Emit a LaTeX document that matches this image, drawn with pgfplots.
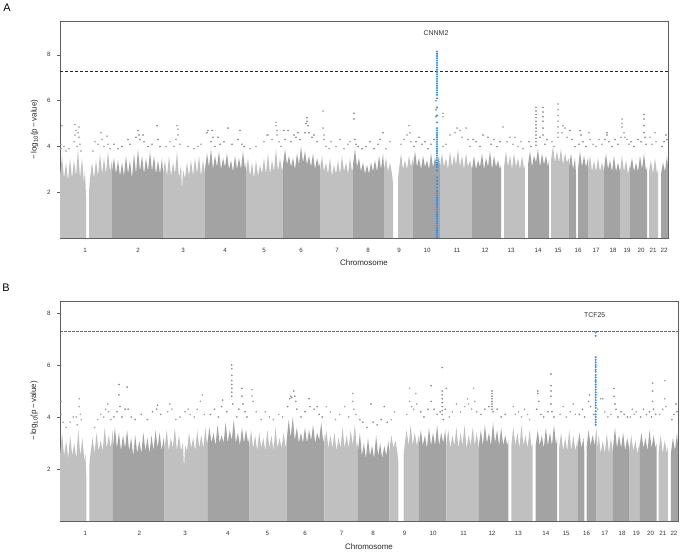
\documentclass[border=0pt]{standalone}
\usepackage{fontspec}
\setmainfont{Liberation Sans}
\usepackage{pgfplots}
\pgfplotsset{compat=1.18}
\definecolor{lg}{RGB}{192,192,192}
\definecolor{dg}{RGB}{163,163,163}
\definecolor{lgp}{RGB}{165,165,165}
\definecolor{dgp}{RGB}{138,138,138}
\definecolor{snpblue}{RGB}{30,144,255}
\definecolor{frame}{RGB}{95,95,95}
\pgfplotsset{
 manh/.style={scale only axis, xmin=60, xmax=668, ymin=0,
  axis line style={draw=frame, line width=0.8pt},
  xtick={85,138,183,225,264,301,337,368,399,427,457,485,511,538,558,578,596,613,627,641,653,664},
  xticklabels={1,2,3,4,5,6,7,8,9,10,11,12,13,14,15,16,17,18,19,20,21,22},
  ytick={2,4,6,8},
  /pgf/number format/assume math mode=true,
  tick align=outside, tick pos=left,
  x tick style={draw=none}, y tick style={draw=frame, line width=0.5pt},
  major tick length=3bp,
  tick label style={font=\fontsize{6.2}{7}\selectfont, text=black!80},
  xticklabel style={yshift=-4bp},
  yticklabel style={xshift=-3bp},
  label style={font=\fontsize{8}{9}\selectfont, text=black!85},
  ylabel={−\,log\textsubscript{10}(p\,−\,value)},
  xlabel={Chromosome},
 },
 lf/.style={fill=lg, draw=none},
 df/.style={fill=dg, draw=none},
 lp/.style={color=lgp, only marks, mark=*, mark size=0.6pt, mark options={draw=none, fill=lgp}},
 dp/.style={color=dgp, only marks, mark=*, mark size=0.6pt, mark options={draw=none, fill=dgp}},
 bp/.style={color=snpblue, only marks, mark=*, mark size=0.8pt, mark options={draw=none, fill=snpblue}},
}
\begin{document}
\begin{tikzpicture}
\useasboundingbox (0,0) rectangle (680bp,553bp);
\node[font=\fontsize{11}{12}\selectfont] at (7bp,545bp) {A};
\node[font=\fontsize{11}{12}\selectfont] at (6bp,265bp) {B};
% ---------------- Panel A ----------------
\begin{axis}[manh, at={(60bp,315bp)}, anchor=south west, width=608bp, height=217bp, ymax=9.48,
  xlabel style={at={(axis description cs:0.5,-0.115)}, anchor=center},
  ylabel style={at={(axis description cs:-0.042,0.5)}, anchor=center}]
\addplot[lf] coordinates {(60,0)(60,2.7)(62,3.6)(64,2.6)(66,3.3)(68,2.5)(70,3.5)(72,2.6)(74,3.4)(76,2.7)(78,3.9)(80,2.6)(82,3.5)(84,2.4)(85,3.0)(86,1.8)(86,0)};
\addplot[lf] coordinates {(89,0)(89,2.0)(90,2.6)(92,3.3)(94,2.6)(96,3.4)(98,2.7)(100,3.7)(102,2.8)(104,3.5)(106,2.8)(108,3.8)(110,2.9)(112,3.4)(112,0)};
\addplot[df] coordinates {(112,0)(112,2.9)(114,3.5)(116,2.8)(118,3.4)(120,2.7)(122,3.3)(124,2.7)(126,3.6)(128,2.8)(130,3.4)(132,2.6)(134,3.7)(136,2.8)(138,3.9)(140,2.9)(142,3.6)(144,2.8)(146,3.5)(148,2.9)(150,3.8)(152,2.9)(154,3.6)(156,2.8)(158,3.4)(160,2.8)(162,3.5)(163,2.9)(163,0)};
\addplot[lf] coordinates {(163,0)(163,2.8)(165,3.4)(167,2.7)(169,3.6)(171,2.7)(173,3.3)(175,2.8)(177,3.8)(179,2.6)(181,3.2)(182,2.0)(183,3.0)(185,2.6)(187,3.3)(189,2.7)(191,3.4)(193,2.7)(195,3.5)(197,2.8)(199,3.6)(201,2.7)(203,3.4)(205,2.8)(205,0)};
\addplot[df] coordinates {(205,0)(205,3.0)(207,3.7)(209,3.1)(211,3.9)(213,3.0)(215,3.6)(217,3.1)(219,3.8)(221,3.0)(223,3.5)(225,3.1)(227,3.7)(229,3.0)(231,3.4)(233,2.9)(235,3.6)(237,3.0)(239,3.5)(241,3.0)(243,3.8)(245,3.0)(246,3.3)(246,0)};
\addplot[lf] coordinates {(246,0)(246,2.8)(248,3.5)(250,2.7)(252,3.3)(254,2.6)(256,3.4)(258,2.7)(260,3.2)(262,2.8)(264,3.5)(266,2.8)(268,3.7)(270,2.8)(272,3.4)(274,2.9)(276,3.9)(278,2.9)(280,3.5)(282,2.9)(283,3.2)(283,0)};
\addplot[df] coordinates {(283,0)(283,3.2)(285,3.9)(287,3.2)(289,3.6)(291,3.1)(293,3.5)(295,3.0)(297,3.7)(299,3.2)(301,4.0)(303,3.3)(305,3.8)(307,3.2)(309,3.6)(311,3.1)(313,3.7)(315,3.0)(317,3.5)(319,3.1)(320,3.3)(320,0)};
\addplot[lf] coordinates {(320,0)(320,2.9)(322,3.6)(324,2.9)(326,3.3)(328,2.8)(330,3.5)(332,2.7)(334,3.2)(336,2.8)(338,3.4)(340,2.8)(342,3.6)(344,2.9)(346,3.3)(348,2.8)(350,3.5)(352,2.9)(353,3.1)(353,0)};
\addplot[df] coordinates {(353,0)(353,3.2)(355,3.9)(357,3.1)(359,3.5)(361,2.9)(363,3.3)(365,2.8)(367,3.2)(369,2.8)(371,3.3)(373,2.9)(375,3.4)(377,2.9)(379,3.6)(381,3.0)(383,3.7)(384,3.1)(384,0)};
\addplot[lf] coordinates {(384,0)(384,3.0)(386,3.5)(388,2.9)(390,3.3)(392,2.8)(393,2.4)(393,0)};
\addplot[lf] coordinates {(398,0)(398,2.6)(399,3.0)(401,3.7)(403,3.0)(405,3.4)(407,3.0)(409,3.6)(411,3.1)(413,3.5)(413,0)};
\addplot[df] coordinates {(413,0)(413,3.1)(415,3.8)(417,3.1)(419,3.5)(421,3.0)(423,3.6)(425,3.1)(427,3.4)(429,3.0)(431,3.7)(433,3.1)(435,3.5)(437,3.2)(439,3.6)(440,3.1)(440,0)};
\addplot[lf] coordinates {(440,0)(440,3.1)(442,3.7)(444,3.1)(446,3.5)(448,3.0)(450,3.8)(452,3.1)(454,3.6)(456,3.2)(458,3.9)(460,3.1)(462,3.6)(464,3.0)(466,3.7)(468,3.1)(470,3.4)(472,3.0)(472,0)};
\addplot[df] coordinates {(472,0)(472,3.0)(474,3.6)(476,3.0)(478,3.4)(480,3.1)(482,3.7)(484,3.0)(486,3.5)(488,3.1)(490,3.8)(492,3.0)(494,3.6)(496,3.1)(498,3.4)(500,3.0)(501,3.2)(501,0)};
\addplot[lf] coordinates {(504,0)(504,3.1)(506,3.8)(508,3.1)(510,3.6)(512,3.0)(514,3.7)(516,3.1)(518,3.5)(520,3.0)(522,3.6)(524,3.0)(525,3.2)(525,0)};
\addplot[df] coordinates {(528,0)(528,3.2)(530,3.8)(532,3.1)(534,3.6)(536,3.3)(538,3.9)(540,3.1)(542,3.7)(544,3.2)(546,3.6)(548,3.1)(549,3.4)(549,0)};
\addplot[lf] coordinates {(551,0)(551,3.4)(553,4.0)(555,3.3)(557,3.8)(559,3.3)(561,3.9)(563,3.2)(565,3.7)(567,3.3)(569,3.5)(569,0)};
\addplot[df] coordinates {(569,0)(569,3.1)(571,3.7)(573,3.0)(575,3.5)(576,2.8)(576,0)};
\addplot[df] coordinates {(578,0)(578,3.0)(580,3.8)(582,3.1)(584,3.6)(586,3.1)(588,3.5)(588,0)};
\addplot[lf] coordinates {(588,0)(588,3.0)(590,3.6)(592,2.9)(594,3.4)(596,2.9)(598,3.5)(600,2.9)(602,3.3)(604,2.9)(604,0)};
\addplot[df] coordinates {(604,0)(604,3.0)(606,3.7)(608,3.0)(610,3.4)(612,2.9)(614,3.6)(616,2.9)(618,3.3)(620,2.9)(620,0)};
\addplot[lf] coordinates {(620,0)(620,2.9)(622,3.6)(624,2.9)(626,3.4)(628,2.8)(630,3.2)(630,0)};
\addplot[df] coordinates {(630,0)(630,3.0)(632,3.5)(634,2.9)(636,3.3)(638,2.9)(640,3.6)(642,3.0)(644,3.7)(646,2.9)(647,3.1)(647,0)};
\addplot[lf] coordinates {(649,0)(649,2.9)(651,3.4)(653,2.8)(655,3.5)(657,2.8)(658,3.0)(658,0)};
\addplot[df] coordinates {(661,0)(661,2.8)(663,3.3)(665,2.9)(667,3.6)(668,3.1)(668,0)};
% light-chromosome SNPs above the bulk
\addplot[lp] coordinates {(61,3.9)(61,4.1)(62,4.9)(64,4.0)(66,3.8)(69,3.9)(74,4.2)(75,4.5)(75,4.95)(76,4.7)(77,4.0)(78,4.6)(79,4.85)(79,4.4)(80,4.1)(81,3.8)(93,3.8)(95,4.2)(98,4.1)(101,4.6)(102,4.3)(104,4.0)(107,4.45)(108,4.1)(110,3.9)
(166,4.0)(170,4.2)(174,4.0)(176,4.3)(177,4.9)(178,4.75)(178,4.5)(180,4.1)(188,4.0)(194,3.9)(198,4.0)(201,4.1)
(250,3.9)(256,4.0)(264,4.2)(267,4.5)(268,4.5)(272,4.3)(276,5.05)(276,4.9)(277,4.7)(277,4.5)(279,4.2)(281,4.0)
(323,5.55)(323,4.8)(324,4.5)(324,4.3)(326,4.0)(329,3.9)(331,4.2)(336,4.0)(340,4.3)(344,3.9)(348,4.1)(350,4.2)
(386,3.9)(390,4.2)(401,4.1)(404,4.3)(407,4.5)(409,4.9)(410,4.6)(411,4.2)
(443,5.45)(443,5.3)(443,4.0)(446,4.1)(450,4.5)(455,4.6)(457,4.8)(460,4.7)(462,4.4)(466,4.8)(468,4.3)(470,4.0)
(503,4.85)(507,4.2)(510,4.4)(513,4.1)(515,4.4)(518,4.0)(521,4.2)(523,3.9)
(552,4.2)(554,4.0)(558,5.85)(558,5.6)(558,5.35)(558,5.1)(558,4.85)(558,4.6)(558,4.4)(562,4.6)(563,4.9)(565,4.8)(567,4.4)
(589,4.6)(590,4.3)(593,4.1)(596,4.0)(599,4.3)(602,4.1)
(621,4.4)(622,5.2)(622,5.0)(622,4.85)(624,4.6)(625,4.4)(627,4.3)(629,4.1)
(650,4.4)(652,4.1)(655,4.6)(656,4.2)};
% dark-chromosome SNPs above the bulk
\addplot[dp] coordinates {(114,4.1)(118,3.9)(122,4.0)(128,4.3)(130,4.1)(136,4.4)(138,4.7)(139,4.5)(140,4.3)(143,4.5)(144,4.2)(148,4.0)(152,4.1)(157,4.9)(158,4.3)(160,4.0)
(207,4.6)(208,4.7)(211,4.2)(212,4.7)(213,4.4)(215,4.0)(218,4.4)(220,4.1)(224,4.2)(228,4.8)(232,4.1)(238,4.3)(240,4.7)(242,4.1)(244,4.0)
(284,4.7)(285,4.3)(288,4.7)(291,4.2)(294,4.5)(296,4.4)(298,4.6)(300,4.3)(305,4.6)(306,5.0)(307,5.25)(307,5.1)(308,4.9)(309,4.6)(312,4.4)(314,4.5)(317,4.2)
(354,5.45)(354,5.2)(355,4.3)(356,4.1)(358,4.0)(362,3.9)(366,4.0)(370,4.2)(374,3.9)(378,4.1)(380,4.3)(383,4.6)
(414,4.0)(416,4.2)(419,4.4)(422,4.1)(425,4.2)(428,3.9)(431,4.1)(434,4.3)(436,5.3)(436,5.6)(436,6.0)
(473,4.3)(476,4.2)(480,4.0)(483,4.5)(488,4.4)(491,4.1)(494,4.3)(497,4.0)(500,4.2)
(529,4.2)(531,4.0)(536,5.7)(536,5.55)(536,5.4)(536,5.25)(536,5.1)(536,4.95)(536,4.8)(536,4.65)(536,4.5)(536,4.35)(536,4.2)(536,4.05)(540,4.4)(543,5.7)(543,5.5)(543,5.3)(543,5.1)(543,4.8)(543,4.5)(545,4.1)(547,4.3)
(570,4.7)(572,4.3)(575,4.0)(579,4.1)(580,4.7)(581,4.5)(583,4.2)(586,4.0)
(605,4.3)(607,4.6)(607,4.5)(609,4.2)(612,4.0)(615,4.3)(618,4.1)
(631,4.2)(634,4.0)(638,4.3)(641,4.2)(644,5.4)(644,5.2)(644,4.9)(644,4.6)(645,4.4)(646,4.1)
(662,4.0)(664,4.2)(666,4.5)(667,4.3)};
% CNNM2 locus
\addplot[bp] coordinates {(437,0.05)(437,0.15)(437,0.25)(437,0.35)(437,0.45)(437,0.55)(437,0.65)(437,0.75)(437,0.85)(437,0.95)(437,1.05)(437,1.15)(437,1.25)(437,1.35)(437,1.45)(437,1.55)(437,1.65)(437,1.75)(437,1.85)(437,1.95)(437,2.05)(437,2.2)(437,2.35)(437,2.5)(437,2.65)(437,2.95)(437,3.1)(437,3.2)(437,3.3)(437,3.4)(437,3.5)(437,3.6)(437,3.7)(437,3.8)(437,3.9)(437,4.0)(437,4.1)(437,4.2)(437,4.3)(437,4.4)(437,4.5)(437,4.6)(437,4.7)(437,4.8)(437,5.05)(437,5.35)(437,5.7)(437,6.1)(437,6.25)(437,6.35)(437,6.45)(437,6.55)(437,6.65)(437,6.75)(437,6.85)(437,6.95)(437,7.05)(437,7.15)(437,7.25)(437,7.35)(437,7.45)(437,7.55)(437,7.65)(437,7.75)(437,7.85)(437,7.95)(437,8.05)(437,8.15)};
\addplot[black!85, line width=0.6pt, dash pattern=on 3bp off 2bp] coordinates {(60,7.3)(668,7.3)};
\node[font=\fontsize{7}{8}\selectfont, text=black!80] at (axis cs:436,8.95) {CNNM2};
\end{axis}
% ---------------- Panel B ----------------
\begin{axis}[manh, at={(60bp,32bp)}, anchor=south west, width=618bp, height=220bp, ymax=8.46,
  xlabel style={at={(axis description cs:0.5,-0.118)}, anchor=center},
  ylabel style={at={(axis description cs:-0.042,0.5)}, anchor=center}]
\addplot[lf] coordinates {(60,0)(60,2.5)(62,3.4)(64,2.5)(66,3.1)(68,2.4)(70,3.3)(72,2.5)(74,3.0)(76,2.4)(78,3.5)(80,2.5)(82,3.2)(84,2.3)(85,2.6)(86,1.6)(86,0)};
\addplot[lf] coordinates {(89,0)(89,2.2)(90,2.6)(92,3.2)(94,2.6)(96,3.4)(98,2.7)(100,3.1)(102,2.7)(104,3.6)(106,2.8)(108,3.3)(110,2.8)(112,3.5)(112,0)};
\addplot[df] coordinates {(112,0)(112,2.8)(114,3.6)(116,2.8)(118,3.4)(120,2.7)(122,3.3)(124,2.8)(126,3.5)(128,2.7)(130,3.2)(132,2.5)(134,3.3)(136,2.6)(138,3.1)(140,2.6)(142,3.4)(144,2.7)(146,3.2)(148,2.6)(150,3.3)(152,2.7)(154,3.5)(156,2.8)(158,3.4)(160,2.7)(162,3.2)(163,2.8)(163,0)};
\addplot[lf] coordinates {(163,0)(163,2.8)(165,3.5)(167,2.7)(169,3.2)(171,2.8)(173,3.6)(175,2.7)(177,3.3)(179,2.7)(181,3.0)(182,2.0)(183,2.9)(185,2.7)(187,3.4)(189,2.8)(191,3.2)(193,2.7)(195,3.5)(197,2.8)(199,3.3)(201,2.8)(203,3.6)(205,2.8)(205,0)};
\addplot[df] coordinates {(205,0)(205,3.0)(207,3.6)(209,3.0)(211,3.4)(213,2.9)(215,3.7)(217,3.0)(219,3.3)(221,3.0)(223,3.8)(225,3.0)(227,3.5)(229,3.1)(231,3.9)(233,3.0)(235,3.4)(237,2.9)(239,3.6)(241,3.0)(243,3.5)(245,3.0)(246,3.2)(246,0)};
\addplot[lf] coordinates {(246,0)(246,2.8)(248,3.5)(250,2.8)(252,3.3)(254,2.7)(256,3.4)(258,2.8)(260,3.2)(262,2.7)(264,3.5)(266,2.8)(268,3.3)(270,2.7)(272,3.6)(274,2.8)(276,3.2)(278,2.8)(280,3.4)(282,2.8)(283,3.1)(283,0)};
\addplot[df] coordinates {(283,0)(283,3.1)(285,3.9)(287,3.2)(289,4.0)(291,3.1)(293,3.6)(295,3.0)(297,3.4)(299,3.0)(301,3.6)(303,3.0)(305,3.5)(307,3.1)(309,3.7)(311,3.0)(313,3.4)(315,3.1)(317,3.8)(319,3.0)(320,3.3)(320,0)};
\addplot[lf] coordinates {(320,0)(320,2.9)(322,3.5)(324,2.8)(326,3.3)(328,2.8)(330,3.4)(332,2.7)(334,3.2)(336,2.8)(338,3.6)(340,2.8)(342,3.3)(344,2.8)(346,3.5)(348,2.9)(350,3.7)(352,2.8)(353,3.0)(353,0)};
\addplot[df] coordinates {(353,0)(353,2.6)(355,3.4)(357,2.5)(359,3.0)(361,2.4)(363,3.2)(365,2.5)(367,2.9)(369,2.4)(371,3.3)(373,2.5)(375,3.0)(377,2.4)(379,2.9)(381,2.5)(383,3.1)(384,2.6)(384,0)};
\addplot[lf] coordinates {(384,0)(384,2.7)(386,3.3)(388,2.8)(390,3.1)(392,2.6)(393,2.2)(393,0)};
\addplot[lf] coordinates {(398,0)(398,2.5)(399,2.9)(401,3.5)(403,2.9)(405,3.7)(407,2.9)(409,3.4)(411,2.9)(413,3.3)(413,0)};
\addplot[df] coordinates {(413,0)(413,2.9)(415,3.5)(417,2.9)(419,3.3)(421,2.8)(423,3.6)(425,2.9)(427,3.4)(429,2.9)(431,3.7)(433,2.9)(435,3.4)(437,3.0)(439,3.5)(440,2.9)(440,0)};
\addplot[lf] coordinates {(440,0)(440,2.9)(442,3.5)(444,2.8)(446,3.3)(448,2.9)(450,3.6)(452,2.8)(454,3.4)(456,2.9)(458,3.7)(460,2.8)(462,3.3)(464,2.9)(466,3.6)(468,2.9)(470,3.4)(472,2.8)(472,0)};
\addplot[df] coordinates {(472,0)(472,2.9)(474,3.5)(476,2.9)(478,3.7)(480,3.0)(482,3.4)(484,2.9)(486,3.8)(488,3.0)(490,3.5)(492,2.9)(494,3.6)(496,2.9)(498,3.3)(500,2.9)(501,3.1)(501,0)};
\addplot[lf] coordinates {(504,0)(504,2.9)(506,3.6)(508,2.9)(510,3.4)(512,2.8)(514,3.7)(516,2.9)(518,3.3)(520,2.8)(522,3.5)(524,2.8)(525,3.0)(525,0)};
\addplot[df] coordinates {(528,0)(528,2.9)(530,3.5)(532,2.9)(534,3.3)(536,2.8)(538,3.6)(540,2.9)(542,3.4)(544,2.9)(546,3.7)(548,2.9)(549,3.2)(549,0)};
\addplot[lf] coordinates {(551,0)(551,2.8)(553,3.4)(555,2.7)(557,3.2)(559,2.7)(561,3.5)(563,2.7)(565,3.3)(567,2.7)(569,3.1)(569,0)};
\addplot[df] coordinates {(569,0)(569,2.8)(571,3.4)(573,2.8)(575,3.2)(576,2.6)(576,0)};
\addplot[df] coordinates {(578,0)(578,2.8)(580,3.5)(582,2.9)(584,3.3)(586,2.9)(588,3.6)(588,0)};
\addplot[lf] coordinates {(588,0)(588,2.7)(590,3.3)(592,2.6)(594,3.1)(596,2.6)(598,3.4)(600,2.6)(602,3.2)(604,2.6)(604,0)};
\addplot[df] coordinates {(604,0)(604,2.8)(606,3.6)(608,2.8)(610,3.3)(612,2.8)(614,3.4)(616,2.7)(618,3.2)(620,2.8)(620,0)};
\addplot[lf] coordinates {(620,0)(620,2.7)(622,3.3)(624,2.7)(626,3.1)(628,2.6)(630,3.0)(630,0)};
\addplot[df] coordinates {(630,0)(630,2.8)(632,3.4)(634,2.8)(636,3.2)(638,2.7)(640,3.5)(642,2.8)(644,3.3)(646,2.8)(647,3.0)(647,0)};
\addplot[lf] coordinates {(649,0)(649,2.7)(651,3.3)(653,2.6)(655,3.1)(657,2.6)(658,2.9)(658,0)};
\addplot[df] coordinates {(661,0)(661,2.6)(663,3.2)(665,2.7)(667,3.4)(668,2.9)(668,0)};
\addplot[lp] coordinates {(61,4.6)(61,4.1)(63,3.8)(66,3.6)(70,3.8)(73,4.0)(76,4.0)(77,3.7)(79,4.7)(79,4.4)(80,4.1)(81,3.9)(94,3.6)(97,3.9)(100,4.1)(103,4.0)(105,4.3)(107,4.5)(108,4.2)(110,3.9)
(166,4.2)(168,4.5)(170,4.3)(174,3.9)(178,4.0)(183,4.2)(186,4.3)(188,4.1)(192,4.0)(195,4.3)(198,4.6)(200,4.85)(202,4.1)
(249,5.05)(249,4.8)(250,4.6)(253,4.2)(258,3.9)(262,4.2)(266,4.0)(270,3.9)(275,4.1)(279,4.0)
(322,4.4)(326,4.2)(331,3.9)(335,4.1)(340,4.4)(344,4.0)(348,4.9)(348,4.6)(349,4.3)(351,4.1)
(386,3.9)(389,4.2)(401,4.1)(404,5.1)(404,4.6)(406,4.4)(408,4.3)(410,4.9)(411,4.5)
(443,4.0)(446,4.2)(450,4.5)(454,4.2)(458,4.4)(461,4.7)(462,4.5)(465,4.3)(467,5.1)(468,4.6)(470,4.2)
(506,4.4)(508,4.1)(511,4.2)(514,4.0)(517,4.3)(520,4.1)(522,3.9)
(552,4.1)(555,4.4)(558,4.0)(562,4.2)(565,4.5)(567,4.1)
(589,4.3)(592,4.7)(594,4.7)(596,4.2)(599,4.0)(602,4.1)
(621,4.0)(623,4.3)(625,4.1)(627,4.2)
(650,4.1)(653,4.3)(655,5.4)(655,4.7)(656,4.4)};
\addplot[dp] coordinates {(113,4.0)(116,4.2)(118,5.25)(118,4.85)(119,4.4)(121,4.0)(124,4.3)(126,5.15)(127,4.3)(130,4.0)(134,3.9)(140,4.1)(146,3.9)(151,4.2)(155,4.3)(156,4.45)(159,4.1)
(208,4.1)(212,4.3)(216,4.0)(219,4.4)(220,4.65)(224,4.2)(229,6.0)(229,5.85)(229,5.6)(229,5.4)(229,5.25)(229,5.1)(229,4.95)(229,4.8)(230,4.5)(234,4.0)(236,4.3)(239,5.1)(239,4.8)(240,4.5)(242,4.2)(244,4.0)
(284,4.4)(286,4.7)(287,4.8)(288,4.75)(290,5.0)(291,4.8)(292,4.6)(293,4.3)(297,4.0)(301,4.2)(305,4.7)(306,4.4)(310,4.3)(313,4.4)(315,4.1)(318,4.0)
(355,3.9)(358,3.8)(362,3.6)(366,4.5)(368,3.8)(372,3.7)(376,3.9)(379,4.4)(382,3.8)
(415,4.2)(418,4.0)(422,4.3)(425,5.2)(425,4.6)(428,4.3)(431,4.1)(434,4.2)(436,5.9)(436,5.0)(436,4.85)(436,4.7)(436,4.55)(436,4.4)(436,4.25)(436,4.1)(437,3.9)(439,4.3)(440,5.1)
(474,4.1)(478,4.3)(482,4.4)(485,5.0)(485,4.9)(485,4.8)(485,4.7)(485,4.6)(485,4.5)(485,4.4)(485,4.3)(486,4.2)(490,4.3)(494,4.0)(498,4.1)
(529,4.3)(530,4.9)(530,5.0)(531,4.6)(533,4.1)(536,4.0)(540,4.2)(543,5.65)(543,5.2)(543,5.0)(543,4.8)(543,4.5)(544,4.2)(546,4.0)
(571,4.1)(574,4.3)(576,4.0)(580,4.6)(581,4.85)(582,4.4)(585,4.1)
(605,5.1)(605,4.8)(606,4.5)(607,4.3)(609,4.0)(612,4.2)(615,4.1)(618,4.0)
(631,4.0)(634,4.3)(637,4.1)(640,4.2)(642,4.0)(643,5.3)(643,5.0)(643,4.6)(644,4.3)(646,4.1)
(662,3.9)(664,4.1)(666,4.5)(667,4.2)};
% TCF25 locus
\addplot[bp] coordinates {(587,7.25)(587,7.12)(587,6.3)(587,6.2)(587,6.1)(587,6.0)(587,5.92)(587,5.82)(587,5.74)(587,5.62)(587,5.52)(587,5.42)(587,5.35)(587,5.25)(587,5.15)(587,5.05)(587,4.95)(587,4.85)(587,4.75)(587,4.65)(587,4.55)(587,4.45)(587,4.35)(587,4.22)(587,4.1)(587,4.0)(587,3.9)(587,3.8)(587,3.7)};
\addplot[black!60, line width=0.9pt, dash pattern=on 2.5bp off 1.5bp] coordinates {(60,7.27)(668,7.27)};
\node[font=\fontsize{7}{8}\selectfont, text=black!80] at (axis cs:586,7.9) {TCF25};
\end{axis}
\end{tikzpicture}
\end{document}
